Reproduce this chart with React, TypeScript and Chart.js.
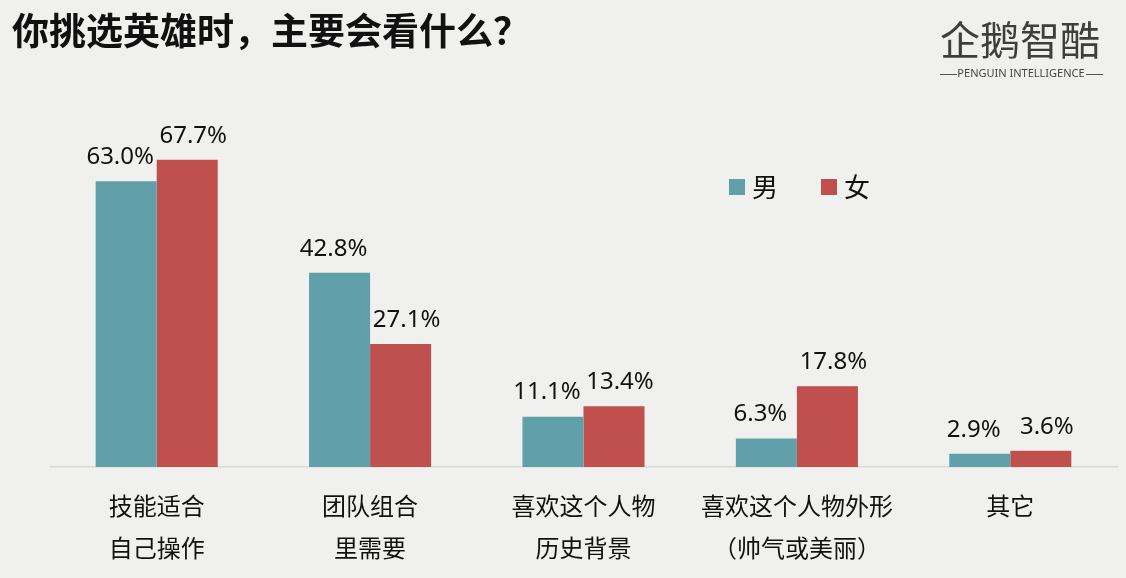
import React, { useEffect, useRef } from "react";
import { Chart, registerables } from "chart.js";

Chart.register(...registerables);

const title = "你挑选英雄时，主要会看什么？";
const categories: string[][] = [
  ["技能适合", "自己操作"],
  ["团队组合", "里需要"],
  ["喜欢这个人物", "历史背景"],
  ["喜欢这个人物外形", "（帅气或美丽）"],
  ["其它"],
];
const seriesNames = ["男", "女"];
const maleValues = [63.0, 42.8, 11.1, 6.3, 2.9];
const femaleValues = [67.7, 27.1, 13.4, 17.8, 3.6];
const colors = ["#61a0aa", "#c0504d"];
const BG = "#f0f0ee";
const CJK = '"Noto Sans CJK SC", "Noto Sans", sans-serif';
const NUM = '"Noto Sans", "Noto Sans CJK SC", sans-serif';

const decorPlugin = {
  id: "decor",
  beforeDraw(chart: any) {
    const ctx = chart.ctx;
    ctx.save();
    ctx.fillStyle = BG;
    ctx.fillRect(0, 0, chart.width, chart.height);
    ctx.restore();
  },
  afterDraw(chart: any) {
    const ctx = chart.ctx;
    ctx.save();
    // title
    ctx.fillStyle = "#111";
    ctx.font = `bold 37px ${CJK}`;
    ctx.textBaseline = "middle";
    ctx.textAlign = "left";
    ctx.fillText(title, 12, 31);

    // logo
    ctx.fillStyle = "#3e3e3e";
    ctx.font = `40px ${CJK}`;
    ctx.textAlign = "center";
    ctx.fillText("企鹅智酷", 1020, 40);
    ctx.font = `11px ${NUM}`;
    ctx.fillStyle = "#444";
    ctx.fillText("PENGUIN INTELLIGENCE", 1021, 74);
    ctx.strokeStyle = "#555";
    ctx.lineWidth = 1;
    ctx.beginPath();
    ctx.moveTo(940, 74.5);
    ctx.lineTo(957, 74.5);
    ctx.moveTo(1086, 74.5);
    ctx.lineTo(1103, 74.5);
    ctx.stroke();

    // legend
    const ds = chart.data.datasets;
    const lx = [729, 821];
    ds.forEach((d: any, i: number) => {
      ctx.fillStyle = d.backgroundColor;
      ctx.fillRect(lx[i], 179, 16, 16);
      ctx.fillStyle = "#111";
      ctx.font = `26px ${CJK}`;
      ctx.textAlign = "left";
      ctx.textBaseline = "middle";
      ctx.fillText(d.label, lx[i] + 23, 187);
    });

    // value labels
    ctx.font = `24px ${NUM}`;
    ctx.fillStyle = "#111";
    ctx.textAlign = "center";
    ctx.textBaseline = "bottom";
    ds.forEach((d: any, i: number) => {
      const meta = chart.getDatasetMeta(i);
      meta.data.forEach((bar: any, j: number) => {
        const off = i === 0 ? -6 : 6;
        ctx.fillText(d.data[j].toFixed(1) + "%", bar.x + off, bar.y - 12);
      });
    });
    ctx.restore();
  },
};

export default function App() {
  const ref = useRef<HTMLCanvasElement>(null);
  useEffect(() => {
    document.body.style.margin = "0";
    document.body.style.background = BG;
    const chart = new Chart(ref.current!, {
      type: "bar",
      data: {
        labels: categories,
        datasets: [
          { label: seriesNames[0], data: maleValues, backgroundColor: colors[0] },
          { label: seriesNames[1], data: femaleValues, backgroundColor: colors[1] },
        ],
      },
      options: {
        animation: false,
        responsive: false,
        devicePixelRatio: 1,
        layout: { padding: { top: 104, left: 50, right: 9, bottom: 0 } },
        datasets: { bar: { categoryPercentage: 0.572, barPercentage: 1 } },
        plugins: { legend: { display: false }, tooltip: { enabled: false }, title: { display: false } },
        scales: {
          x: {
            grid: { display: false, drawTicks: false },
            border: { display: true, color: "#d9d9d9", width: 1.5 },
            ticks: {
              color: "#111",
              font: { size: 24, family: CJK, lineHeight: 1.75 },
              padding: 18,
              maxRotation: 0,
              autoSkip: false,
            },
            afterFit: (scale: any) => {
              scale.height = 111;
            },
          },
          y: { display: false, min: 0, max: 80 },
        },
      },
      plugins: [decorPlugin],
    });
    return () => chart.destroy();
  }, []);
  return <canvas ref={ref} width={1126} height={578} style={{ display: "block" }} />;
}
